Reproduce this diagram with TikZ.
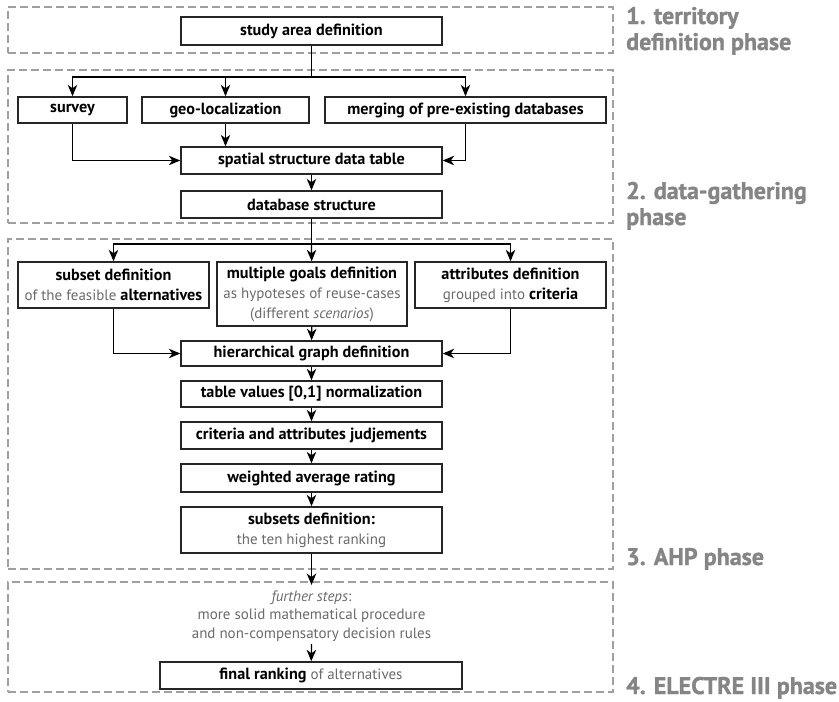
\documentclass[tikz,border=0pt]{standalone}
\usepackage{fontspec}
\setmainfont{PT Sans}
\newfontfamily\phasefont[BoldFeatures={FakeBold=1.2}]{PT Sans}
\usetikzlibrary{arrows.meta}
\definecolor{phasegray}{HTML}{858585}
\definecolor{txtgray}{HTML}{6A6A6A}
\definecolor{dashgray}{HTML}{A0A0A0}
\newcommand\gtx[1]{{\fontsize{15}{20}\selectfont\mdseries\color{txtgray}#1}}
\begin{document}
\begin{tikzpicture}[x=1pt,y=-1pt,
  box/.style={draw=black!85, line width=1.4pt, inner sep=0pt, align=center,
    font=\fontsize{16.2}{20}\selectfont\bfseries},
  phasebox/.style={draw=dashgray, dash pattern=on 8pt off 4pt, line width=1.3pt,
    inner sep=0pt},
  arr/.style={-{Stealth[length=11.5pt,width=9.5pt,inset=3.5pt]}, line width=1.2pt},
  link/.style={line width=1.2pt},
  phase/.style={font=\phasefont\fontsize{24}{26}\selectfont\bfseries, text=phasegray,
    anchor=base west, align=left, inner sep=0pt}
]
\useasboundingbox (0,0) rectangle (839,702);
% phase frames
\node[phasebox, minimum width=605pt, minimum height=46pt] (ph1) at (310.5,30) {};
\node[phasebox, minimum width=605pt, minimum height=153pt] (ph2) at (310.5,146.5) {};
\node[phasebox, minimum width=605pt, minimum height=330pt] (ph3) at (310.5,404) {};
\node[phasebox, minimum width=605pt, minimum height=110pt] (ph4) at (310.5,637) {};
% phase labels (base anchor = last line)
\node[phase] (l1) at (626,50) {1. territory\\definition phase};
\node[phase] (l2) at (626,225) {2. data-gathering\\phase};
\node[phase] (l3) at (626,565) {3. AHP phase};
\node[phase] (l4) at (626,694) {4. ELECTRE III phase};
% nodes
\node[box, minimum width=261pt, minimum height=28pt] (study) at (311.5,31) {study area definition};
\node[box, minimum width=109pt, minimum height=26pt] (survey) at (72.5,110) {survey};
\node[box, minimum width=167pt, minimum height=26pt] (geo) at (225.5,110) {geo-localization};
\node[box, minimum width=281pt, minimum height=26pt] (merge) at (465.5,110) {merging of pre-existing databases};
\node[box, minimum width=261pt, minimum height=27pt] (spatial) at (311.5,160.5) {spatial structure data table};
\node[box, minimum width=261pt, minimum height=27pt] (dbs) at (311.5,204.5) {database structure};
\node[box, minimum width=191pt, minimum height=46pt] (subset) at (113.5,285) {subset definition\\\gtx{of the feasible} alternatives};
\node[box, minimum width=190pt, minimum height=64pt] (goals) at (312,294) {multiple goals definition\\\gtx{as hypoteses of reuse-cases}\\\gtx{(different \textit{scenarios})}};
\node[box, minimum width=191pt, minimum height=46pt] (attr) at (510.5,285) {attributes definition\\\gtx{grouped into} criteria};
\node[box, minimum width=261pt, minimum height=25pt] (hier) at (311.5,353.5) {hierarchical graph definition};
\node[box, minimum width=261pt, minimum height=26pt] (tablev) at (311.5,394) {table values [0,1] normalization};
\node[box, minimum width=261pt, minimum height=27pt] (crit) at (311.5,435.5) {criteria and attributes judjements};
\node[box, minimum width=261pt, minimum height=28pt] (weighted) at (311.5,478) {weighted average rating};
\node[box, minimum width=261pt, minimum height=46pt] (subsets) at (311.5,530) {subsets definition:\\\gtx{the ten highest ranking}};
\node[align=center, inner sep=0pt, text=txtgray, font=\fontsize{15}{18.5}\selectfont] (further) at (311.5,616)
  {\textit{further steps}:\\more solid mathematical procedure\\and non-compensatory decision rules};
\node[box, minimum width=302pt, minimum height=27pt] (final) at (311,675.5) {final ranking \gtx{of alternatives}};
% junctions
\coordinate (j1) at (311.5,77);
\coordinate (j2) at (311.5,244);
\coordinate (f1) at (311.5,585);
\coordinate (f2) at (311.5,644);
% connectors
\draw[link] (study) -- (j1);
\draw[arr] (j1) -| (survey);
\draw[arr] (j1) -| (merge);
\draw[arr] (geo.north |- j1) -- (geo);
\draw[arr] (survey) |- (spatial);
\draw[arr] (geo) -- (geo |- spatial.north);
\draw[arr] (merge) |- (spatial);
\draw[arr] (spatial) -- (dbs);
\draw[link] (dbs) -- (j2);
\draw[arr] (j2) -| (subset);
\draw[arr] (j2) -| (attr);
\draw[arr] (j2) -- (goals);
\draw[arr] (subset) |- (hier);
\draw[arr] (attr) |- (hier);
\draw[arr] (goals) -- (hier);
\draw[arr] (hier) -- (tablev);
\draw[arr] (tablev) -- (crit);
\draw[arr] (crit) -- (weighted);
\draw[arr] (weighted) -- (subsets);
\draw[arr] (subsets) -- (f1);
\draw[arr] (f2) -- (final);
\end{tikzpicture}
\end{document}
